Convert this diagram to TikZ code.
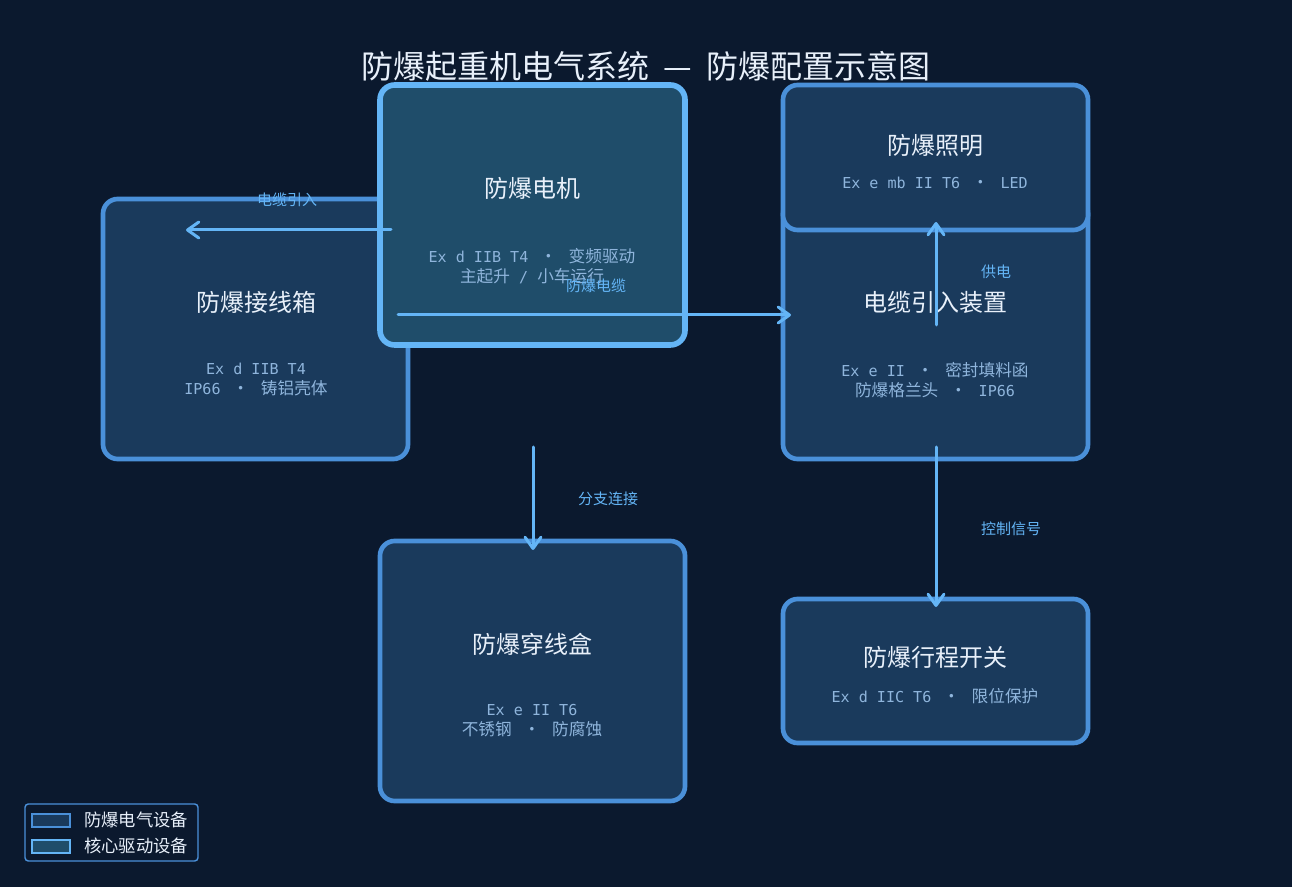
\documentclass[tikz,border=0pt]{standalone}
\usepackage{fontspec}
\setmainfont{Noto Sans CJK SC}
\newfontfamily\monof{DejaVu Sans Mono}
\usetikzlibrary{arrows.meta}
\definecolor{bg}{HTML}{0B192E}
\definecolor{boxfill}{HTML}{1A3A5C}
\definecolor{boxline}{HTML}{4A90D9}
\definecolor{corefill}{HTML}{1F4D6A}
\definecolor{coreline}{HTML}{64B5F6}
\definecolor{titlec}{HTML}{E8F0FA}
\definecolor{subc}{HTML}{8FB5DC}
\definecolor{edgec}{HTML}{64B5F6}
\newcommand\mn[1]{{\monof\fontsize{11.3}{15}\selectfont #1}}
\newcommand\dt{\mn{ }\,·\,\mn{ }}
\tikzset{
  box/.style={draw=boxline, fill=boxfill, line width=3.5pt, rounded corners=11pt,
    minimum width=228.75pt, minimum height=195pt, inner sep=0pt},
  corebox/.style={box, draw=coreline, fill=corefill, line width=4.2pt},
  ttl/.style={text=titlec, font=\fontsize{18}{22}\selectfont, inner sep=0pt},
  subt/.style={text=subc, font=\fontsize{12.5}{15}\selectfont, align=center, inner sep=0pt},
  elab/.style={text=edgec, font=\fontsize{11.25}{14}\selectfont, inner sep=0pt},
  conn/.style={draw=edgec, line width=2.25pt, line cap=round,
    -{Straight Barb[length=8.5pt,width=12pt,round]}},
  legtxt/.style={text=titlec, font=\fontsize{13}{16}\selectfont, anchor=west, inner sep=0pt}
}
\begin{document}
\begin{tikzpicture}[x=0.75pt,y=-0.75pt]
\fill[bg] (0,0) rectangle (1292,887);
\useasboundingbox (0,0) rectangle (1292,887);

% title
\node[text=titlec, font=\fontsize{24}{28}\selectfont, inner sep=0pt] (title) at (646,66) {防爆起重机电气系统\ \ —\ \ 防爆配置示意图};

% boxes
\node[box] (jbox) at (255.5,329) {};
\node[corebox] (motor) at (532.5,215) {};
\node[box] (cable) at (935.5,329) {};
\node[box, minimum height=108.75pt] (light) at (935.5,157.5) {};
\node[box] (pass) at (532.5,671) {};
\node[box, minimum height=108pt] (switch) at (935.5,671) {};

% texts
\node[ttl] (jboxT) at (256,302) {防爆接线箱};
\node[subt] (jboxS) at (256,379) {\mn{Ex d IIB T4}\\\mn{IP66}\dt 铸铝壳体};
\node[ttl] (motorT) at (532,188) {防爆电机};
\node[subt] (motorS) at (532,266.5) {\mn{Ex d IIB T4}\dt 变频驱动\\主起升\mn{ / }小车运行};
\node[ttl] (cableT) at (935,302) {电缆引入装置};
\node[subt] (cableS) at (935,380) {\mn{Ex e II}\dt 密封填料函\\防爆格兰头\dt\mn{IP66}};
\node[ttl] (lightT) at (935,145) {防爆照明};
\node[subt] (lightS) at (935,183) {\mn{Ex e mb II T6}\dt\mn{LED}};
\node[ttl] (passT) at (532,644) {防爆穿线盒};
\node[subt] (passS) at (532,720.5) {\mn{Ex e II T6}\\不锈钢\dt 防腐蚀};
\node[ttl] (switchT) at (935,657) {防爆行程开关};
\node[subt] (switchS) at (935,696) {\mn{Ex d IIC T6}\dt 限位保护};

% connector ends
\coordinate (a1s) at (391,230);
\coordinate (a1e) at (186,230);
\coordinate (a2s) at (398,315);
\coordinate (a2e) at (791,315);
\coordinate (a3s) at (533,447);
\coordinate (a3e) at (533,550);
\coordinate (a4s) at (936,325);
\coordinate (a4e) at (936,222);
\coordinate (a5s) at (936,447);
\coordinate (a5e) at (936,607);

\draw[conn] (a1s) -- (a1e);
\draw[conn] (a2s) -- (a2e);
\draw[conn] (a3s) -- (a3e);
\draw[conn] (a4s) -- (a4e);
\draw[conn] (a5s) -- (a5e);

\node[elab] (l1) at (287,200) {电缆引入};
\node[elab] (l2) at (596,286) {防爆电缆};
\node[elab] (l3) at (608,499) {分支连接};
\node[elab] (l4) at (996,272) {供电};
\node[elab] (l5) at (1011,529) {控制信号};

% legend
\draw[draw=boxline, line width=1.1pt, fill=bg, rounded corners=2.5pt] (25,804) rectangle (198,861);
\draw[draw=boxline, fill=boxfill, line width=1.5pt] (32,814) rectangle (70,827);
\draw[draw=coreline, fill=corefill, line width=1.5pt] (32,840) rectangle (70,853);
\node[legtxt] (lg1) at (84,820) {防爆电气设备};
\node[legtxt] (lg2) at (84,846) {核心驱动设备};
\end{tikzpicture}
\end{document}
